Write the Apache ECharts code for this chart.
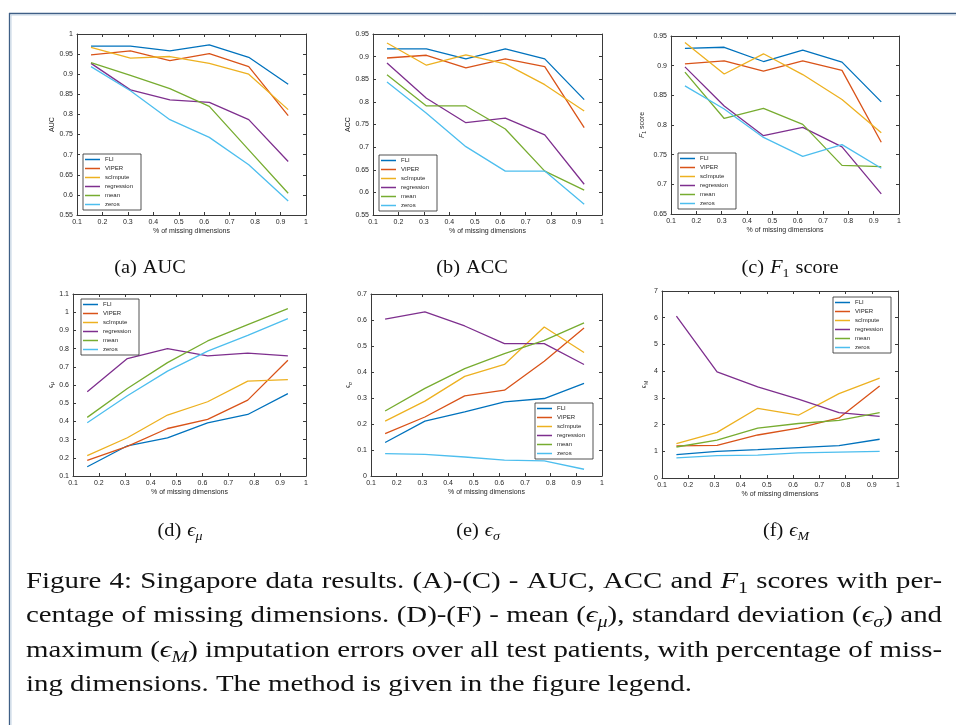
<!DOCTYPE html>
<html><head><meta charset="utf-8">
<script src="https://cdn.jsdelivr.net/npm/echarts@6/dist/echarts.min.js"></script>
<style>html,body{margin:0;padding:0;background:#fff}#c{width:956px;height:725px}</style>
</head><body><div id="c"></div><script>
// ---------- data ----------
const xMissing = [0.155, 0.31, 0.465, 0.62, 0.775, 0.93];
const methods = ['FLI', 'VIPER', 'scImpute', 'regression', 'mean', 'zeros'];
const methodColors = ['#0072BD', '#D95319', '#EDB120', '#7E2F8E', '#77AC30', '#4DBEEE'];

const aucValues = [
  [0.970, 0.970, 0.958, 0.973, 0.942, 0.875],
  [0.948, 0.958, 0.934, 0.951, 0.919, 0.797],
  [0.967, 0.940, 0.944, 0.927, 0.900, 0.812],
  [0.927, 0.861, 0.836, 0.830, 0.787, 0.683],
  [0.929, 0.897, 0.864, 0.820, 0.712, 0.604],
  [0.919, 0.859, 0.787, 0.743, 0.675, 0.585]
];
const accValues = [
  [0.917, 0.917, 0.895, 0.917, 0.895, 0.805],
  [0.897, 0.903, 0.875, 0.895, 0.878, 0.743],
  [0.930, 0.881, 0.904, 0.884, 0.838, 0.780],
  [0.886, 0.808, 0.754, 0.764, 0.727, 0.618],
  [0.860, 0.791, 0.791, 0.740, 0.647, 0.605],
  [0.844, 0.775, 0.701, 0.647, 0.647, 0.574]
];
const f1Values = [
  [0.929, 0.931, 0.907, 0.926, 0.906, 0.839],
  [0.903, 0.908, 0.891, 0.908, 0.892, 0.771],
  [0.939, 0.886, 0.920, 0.885, 0.843, 0.787],
  [0.898, 0.832, 0.782, 0.796, 0.763, 0.684],
  [0.889, 0.811, 0.828, 0.801, 0.732, 0.730],
  [0.866, 0.827, 0.779, 0.747, 0.767, 0.727]
];
const epsMuValues = [
  [0.151, 0.266, 0.310, 0.392, 0.438, 0.553],
  [0.186, 0.263, 0.361, 0.411, 0.517, 0.736],
  [0.212, 0.310, 0.435, 0.508, 0.621, 0.630],
  [0.563, 0.745, 0.800, 0.760, 0.775, 0.760],
  [0.422, 0.581, 0.723, 0.842, 0.932, 1.020],
  [0.393, 0.541, 0.676, 0.786, 0.873, 0.965]
];
const epsSigmaValues = [
  [0.129, 0.211, 0.247, 0.285, 0.298, 0.356],
  [0.163, 0.227, 0.308, 0.330, 0.441, 0.569],
  [0.211, 0.288, 0.383, 0.429, 0.573, 0.475],
  [0.603, 0.631, 0.577, 0.509, 0.509, 0.429],
  [0.250, 0.337, 0.413, 0.471, 0.522, 0.589],
  [0.086, 0.083, 0.073, 0.061, 0.058, 0.026]
];
const epsMaxValues = [
  [0.875, 1.00, 1.06, 1.14, 1.21, 1.45],
  [1.20, 1.22, 1.61, 1.87, 2.25, 3.44],
  [1.29, 1.71, 2.61, 2.35, 3.16, 3.74],
  [6.06, 3.97, 3.41, 2.95, 2.45, 2.31],
  [1.16, 1.42, 1.87, 2.04, 2.16, 2.45],
  [0.75, 0.84, 0.86, 0.94, 0.97, 1.00]
];

const xAxisTitle = '% of missing dimensions';
const yAxisRanges = [[0.55, 1, 0.05], [0.55, 0.95, 0.05], [0.65, 0.95, 0.05], [0.1, 1.1, 0.1], [0, 0.7, 0.1], [0, 7, 1]];
const yAxisTitles = ['AUC', 'ACC', '{i|F}{s|1} score', '{g|ϵ}{s|μ}', '{g|ϵ}{s|σ}', '{g|ϵ}{s|M}'];
const subCaptions = [
  ['(a)', 'AUC'],
  ['(b)', 'ACC'],
  ['(c)', [['F', 'i'], ['1', 's']], 'score'],
  ['(d)', [['ϵ', 'i'], ['μ', 'si']]],
  ['(e)', [['ϵ', 'i'], ['σ', 'si']]],
  ['(f)', [['ϵ', 'i'], ['M', 'si']]]
];
const captionLines = [
  ['Figure', '4:', 'Singapore', 'data', 'results.', '(A)-(C)', '-', 'AUC,', 'ACC', 'and', [['F', 'i'], ['1', 's']], 'scores', 'with', 'per-'],
  ['centage', 'of', 'missing', 'dimensions.', '(D)-(F)', '-', 'mean', [['(', 'n'], ['ϵ', 'i'], ['μ', 'si'], ['),', 'n']], 'standard', 'deviation', [['(', 'n'], ['ϵ', 'i'], ['σ', 'si'], [')', 'n']], 'and'],
  ['maximum', [['(', 'n'], ['ϵ', 'i'], ['M', 'si'], [')', 'n']], 'imputation', 'errors', 'over', 'all', 'test', 'patients,', 'with', 'percentage', 'of', 'miss-'],
  ['ing', 'dimensions.', 'The', 'method', 'is', 'given', 'in', 'the', 'figure', 'legend.']
];

// ---------- layout ----------
const panelData = [aucValues, accValues, f1Values, epsMuValues, epsSigmaValues, epsMaxValues];
const grids = [
  {left: 77, top: 34, width: 229, height: 181},
  {left: 373, top: 34, width: 229, height: 181},
  {left: 671, top: 36, width: 228, height: 178},
  {left: 73, top: 294, width: 233, height: 182},
  {left: 371, top: 294, width: 231, height: 182},
  {left: 662, top: 291, width: 236, height: 187}
];
const yNameGaps = [19, 20, 24, 17, 18, 13];
const legendPos = [[83, 154], [379, 155], [678, 153], [81, 299], [535, 403], [833, 297]];
const subCaptionPos = [[150, 268], [472, 268], [790, 268], [180, 531], [478, 531], [786, 531]];

const axisColor = '#3a3a3a';
const sans = '"Liberation Sans", Arial, Helvetica, sans-serif';
const fmt = v => String(Math.round(v * 1000) / 1000);

const xAxes = [], yAxes = [], series = [], legends = [];
grids.forEach((g, i) => {
  const common = {
    type: 'value', gridIndex: i, splitLine: {show: false},
    axisLine: {show: true, onZero: false, lineStyle: {color: axisColor, width: 1}},
    axisTick: {show: true, inside: true, length: 3, lineStyle: {color: axisColor, width: 1}}
  };
  xAxes.push(Object.assign({}, common, {
    position: 'bottom', min: 0.1, max: 1, interval: 0.1,
    axisLabel: {show: true, fontSize: 7, color: '#262626', fontFamily: sans, margin: 4, formatter: fmt},
    name: xAxisTitle, nameLocation: 'middle', nameGap: 13,
    nameTextStyle: {fontSize: 7, color: '#262626', fontFamily: sans}
  }));
  xAxes.push(Object.assign({}, common, {
    position: 'top', min: 0.1, max: 1, interval: 0.1, axisLabel: {show: false}
  }));
  const [ymin, ymax, yint] = yAxisRanges[i];
  yAxes.push(Object.assign({}, common, {
    position: 'left', min: ymin, max: ymax, interval: yint,
    axisLabel: {show: true, fontSize: 7, color: '#262626', fontFamily: sans, margin: 4, formatter: fmt},
    name: yAxisTitles[i], nameLocation: 'middle', nameGap: yNameGaps[i], nameRotate: 90,
    nameTextStyle: {fontSize: 7, color: '#262626', fontFamily: sans,
      rich: {
        i: {fontSize: 7, fontStyle: 'italic', fontFamily: sans, color: '#262626'},
        g: {fontSize: 7, fontFamily: sans, color: '#262626'},
        s: {fontSize: 5, fontFamily: sans, color: '#262626', padding: [4, 0, 0, 0]}
      }}
  }));
  yAxes.push(Object.assign({}, common, {
    position: 'right', min: ymin, max: ymax, interval: yint, axisLabel: {show: false}
  }));
  panelData[i].forEach((vals, m) => {
    series.push({
      type: 'line', name: methods[m], xAxisIndex: 2 * i, yAxisIndex: 2 * i,
      data: xMissing.map((x, k) => [x, vals[k]]),
      showSymbol: false, symbol: 'none', animation: false, silent: true,
      lineStyle: {color: methodColors[m], width: 1.3}, itemStyle: {color: methodColors[m]}
    });
  });
  legends.push({
    orient: 'vertical', left: legendPos[i][0], top: legendPos[i][1], data: methods,
    icon: 'rect', itemWidth: 15, itemHeight: 1.5, itemGap: 2, selectedMode: false,
    textStyle: {fontSize: 6, lineHeight: 7, color: '#262626', fontFamily: sans},
    padding: [2, 8, 2, 2], borderColor: '#262626', borderWidth: 0.8, backgroundColor: '#fff'
  });
});

// ---------- text (captions) ----------
const ctx = document.createElement('canvas').getContext('2d');
const serif = '"Liberation Serif", "DejaVu Serif", serif';
const fontStr = (s, size) => (s.includes('i') ? 'italic ' : '') + size + 'px ' + serif;
const measure = (t, s, size) => { ctx.font = fontStr(s, size); return ctx.measureText(t).width; };
function toSegs(w, fs, sx) {
  const arr = typeof w === 'string' ? [[w, 'n']] : w;
  return arr.map(([t, s]) => { const size = s.includes('s') ? Math.round(fs * 0.7) : fs; return {t, s, size, w: measure(t, s, size) * sx}; });
}
function placeWords(wordsSegs, x, y, gap, fs, sx, els) {
  wordsSegs.forEach(segs => {
    segs.forEach(sg => {
      els.push({type: 'text', x: x, y: sg.s.includes('s') ? y + fs * 0.3 : y, scaleX: sx, silent: true,
        style: {text: sg.t, font: fontStr(sg.s, sg.size), fill: '#111', verticalAlign: 'middle', align: 'left'}});
      x += sg.w;
    });
    x += gap;
  });
}
const graphics = [];
// frame
graphics.push({type: 'line', shape: {x1: 9, y1: 13.5, x2: 956, y2: 13.5}, style: {stroke: '#3f5f86', lineWidth: 1.3}, silent: true});
graphics.push({type: 'line', shape: {x1: 11, y1: 15, x2: 956, y2: 15}, style: {stroke: '#c3d3e3', lineWidth: 1}, silent: true});
graphics.push({type: 'line', shape: {x1: 9.5, y1: 13, x2: 9.5, y2: 725}, style: {stroke: '#3f5f86', lineWidth: 1.3}, silent: true});
graphics.push({type: 'line', shape: {x1: 11, y1: 15, x2: 11, y2: 725}, style: {stroke: '#c3d3e3', lineWidth: 1}, silent: true});

// sub captions
const subFs = 19, subSx = 1.07;
subCaptions.forEach((words, i) => {
  const ws = words.map(w => toSegs(w, subFs, subSx));
  const sp = measure(' ', 'n', subFs) * subSx * 1.2;
  const total = ws.reduce((a, s) => a + s.reduce((b, c) => b + c.w, 0), 0) + sp * (ws.length - 1);
  placeWords(ws, subCaptionPos[i][0] - total / 2, subCaptionPos[i][1], sp, subFs, subSx, graphics);
});
// main caption, justified; horizontal scale fitted so that the last (unjustified) line ends where it does in the figure
const capFs = 23, capX0 = 26, capX1 = 942, capLastEnd = 692, capY0 = 582, capLH = 34.3;
const lastLine = captionLines[captionLines.length - 1];
const lastNat = lastLine.reduce((a, w) => a + toSegs(w, capFs, 1).reduce((b, c) => b + c.w, 0), 0) + measure(' ', 'n', capFs) * (lastLine.length - 1);
const capSx = (capLastEnd - capX0) / lastNat;
captionLines.forEach((words, li) => {
  const ws = words.map(w => toSegs(w, capFs, capSx));
  const total = ws.reduce((a, s) => a + s.reduce((b, c) => b + c.w, 0), 0);
  const last = li === captionLines.length - 1;
  const gap = last ? measure(' ', 'n', capFs) * capSx : (capX1 - capX0 - total) / (words.length - 1);
  placeWords(ws, capX0, capY0 + li * capLH, gap, capFs, capSx, graphics);
});

const chart = echarts.init(document.getElementById('c'), null, {renderer: 'canvas'});
chart.setOption({
  backgroundColor: '#fff',
  animation: false,
  grid: grids,
  xAxis: xAxes,
  yAxis: yAxes,
  legend: legends,
  series: series,
  graphic: graphics
});
</script></body></html>
